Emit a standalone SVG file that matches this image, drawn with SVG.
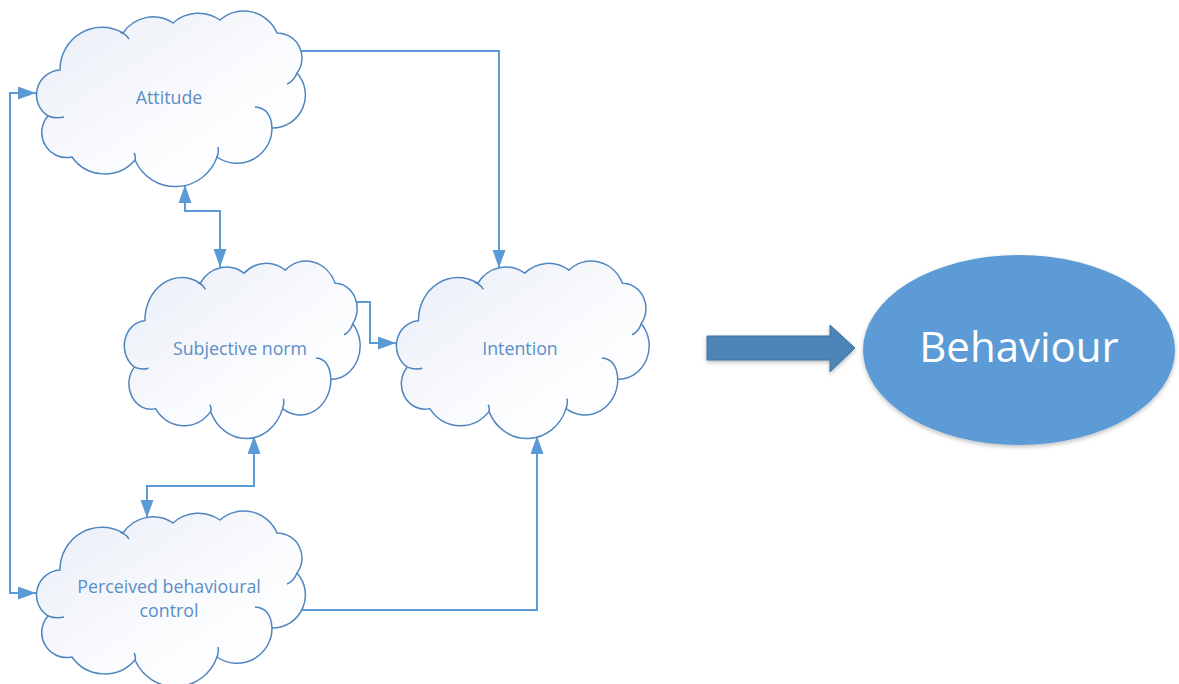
<svg xmlns="http://www.w3.org/2000/svg" xmlns:xlink="http://www.w3.org/1999/xlink" width="1179" height="684" viewBox="0 0 1179 684">
<defs>
<linearGradient id="cloudFill" x1="0" y1="0" x2="1" y2="1">
<stop offset="0" stop-color="#e9edf6"/>
<stop offset="0.6" stop-color="#fbfcfe"/>
<stop offset="1" stop-color="#ffffff"/>
</linearGradient>
<marker id="arr" markerUnits="userSpaceOnUse" markerWidth="20" markerHeight="14" refX="18" refY="6.5" orient="auto-start-reverse">
<path d="M0,0 L18,6.5 L0,13 Z" fill="#5b9bd5"/>
</marker>
<filter id="shadow" x="-10%" y="-10%" width="120%" height="130%">
<feDropShadow dx="0" dy="2" stdDeviation="2" flood-color="#000" flood-opacity="0.25"/>
</filter>
<g id="cloud">
<path class="cloud" d="M25,60 A42,42 0 0 1 88,23 A36,36 0 0 1 138,13 A38,38 0 0 1 185,10 A36,36 0 0 1 242,23 A25,25 0 0 1 262,63 A33,33 0 0 1 237,118 A35,35 0 0 1 182,147 A44,44 0 0 1 100,150 A40,40 0 0 1 37,147 A25,25 0 0 1 13,106 A25,25 0 0 1 25,60 Z"/>
<path class="inner" d="M13,106 Q21,109 29,107 M85,22 Q91,24 94,29 M262,63 Q259,71 252,74 M220,97 Q236,98 237,118 M183,137 Q184,142 182,147 M100,150 Q101,146 99,143"/>
</g>
</defs>
<style>
.cloud{fill:url(#cloudFill);stroke:#4f86c0;stroke-width:1.5;vector-effect:non-scaling-stroke}
.inner{fill:none;stroke:#4f86c0;stroke-width:1.5;vector-effect:non-scaling-stroke}
.lbl{font-family:"Open Sans","Liberation Sans",sans-serif;font-size:17.8px;fill:#5b8ec6;text-anchor:middle}
.conn{fill:none;stroke:#5b9bd5;stroke-width:2}
</style>

<g id="connectors">
<path class="conn" d="M297,51 H499 V268" marker-end="url(#arr)"/>
<path class="conn" d="M36,93 H10 V593 H36" marker-start="url(#arr)" marker-end="url(#arr)"/>
<path class="conn" d="M185,185 V211 H220 V267" marker-start="url(#arr)" marker-end="url(#arr)"/>
<path class="conn" d="M352,302 H370 V343 H396" marker-end="url(#arr)"/>
<path class="conn" d="M254,436 V486 H147 V518" marker-start="url(#arr)" marker-end="url(#arr)"/>
<path class="conn" d="M300,610 H537 V436" marker-end="url(#arr)"/>
</g>

<g id="attitude">
<use xlink:href="#cloud" href="#cloud" transform="translate(35,10)"/>
<text class="lbl" x="169" y="104">Attitude</text>
</g>

<g id="subjective-norm">
<use xlink:href="#cloud" href="#cloud" transform="translate(123,260) scale(0.877,1.011)"/>
<text class="lbl" x="240" y="355">Subjective norm</text>
</g>

<g id="intention">
<use xlink:href="#cloud" href="#cloud" transform="translate(395,260) scale(0.94,1.011)"/>
<text class="lbl" x="520" y="355">Intention</text>
</g>

<g id="perceived-behavioural-control">
<use xlink:href="#cloud" href="#cloud" transform="translate(35,510)"/>
<text class="lbl" x="169" y="593">Perceived behavioural</text>
<text class="lbl" x="169" y="617">control</text>
</g>

<g id="big-arrow">
<path d="M707,336 H830 V325 L855,348 L830,372 V360 H707 Z" fill="#4e85b8" stroke="#41719c" stroke-width="1" filter="url(#shadow)"/>
</g>

<g id="behaviour">
<ellipse cx="1019" cy="350" rx="156" ry="95" fill="#5b9bd5" filter="url(#shadow)"/>
<text x="1019" y="362" font-family="'Open Sans','Liberation Sans',sans-serif" font-size="42" fill="#ffffff" text-anchor="middle">Behaviour</text>
</g>
</svg>
